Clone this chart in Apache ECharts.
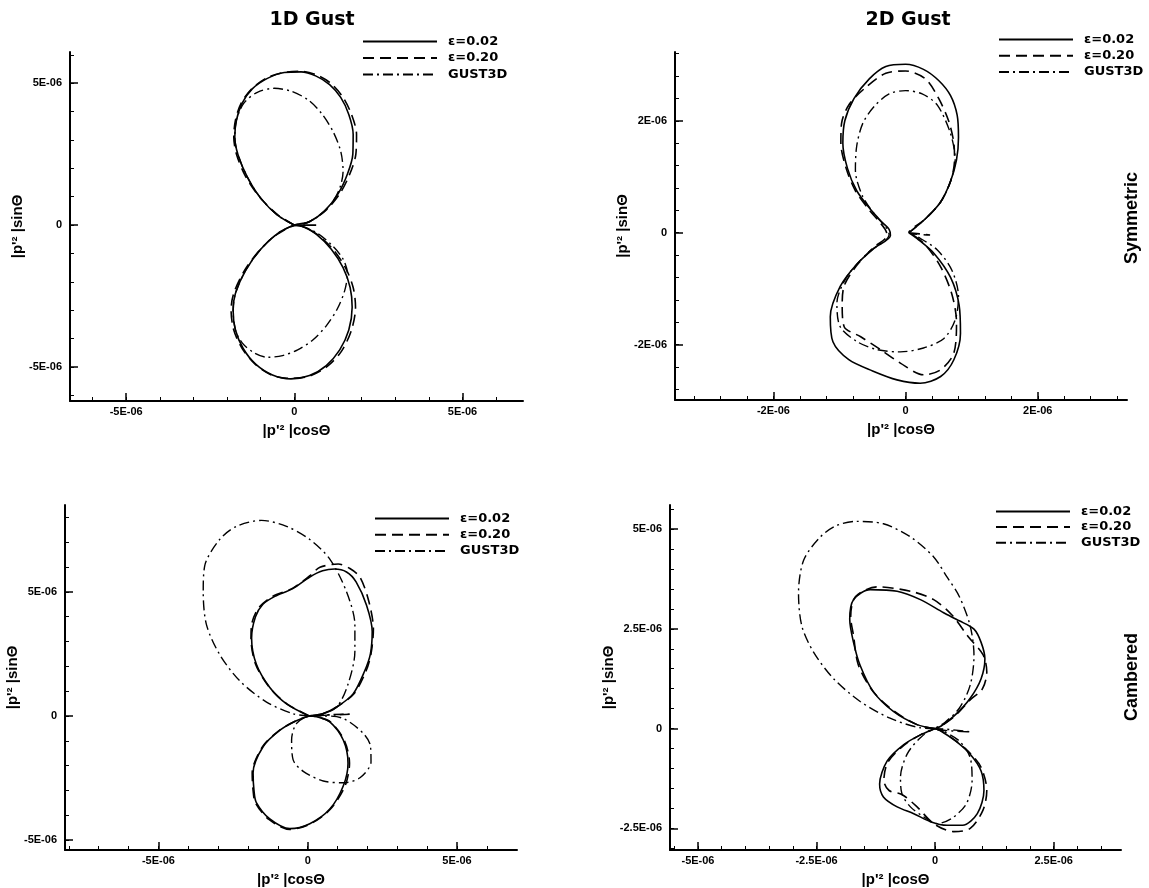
<!DOCTYPE html>
<html><head><meta charset="utf-8">
<script src="https://cdn.jsdelivr.net/npm/echarts@6/dist/echarts.min.js"></script>
<style>html,body{margin:0;padding:0;background:#fff}#c{width:1149px;height:888px}</style>
</head><body><div id="c"></div>
<script>
// Series names
const seriesNames = ['ε=0.02', 'ε=0.20', 'GUST3D'];

// All values in units of 1E-06 : [ |p'^2|cosΘ , |p'^2|sinΘ ]
// Panel 1: 1D Gust, Symmetric
const p1Eps002 = [[0,0],[-0.5,0.35],[-1.0,0.95],[-1.4,1.7],[-1.68,2.5],[-1.77,3.1],[-1.72,3.7],[-1.55,4.3],[-1.25,4.8],[-0.8,5.17],[-0.3,5.38],[0.2,5.4],[0.65,5.25],[1.05,4.95],[1.38,4.5],[1.62,3.9],[1.75,3.2],[1.74,2.5],[1.58,1.8],[1.3,1.1],[0.9,0.5],[0.45,0.12],[0,0],[-0.5,-0.3],[-1.0,-0.85],[-1.45,-1.6],[-1.75,-2.4],[-1.82,-3.0],[-1.75,-3.7],[-1.52,-4.35],[-1.15,-4.9],[-0.65,-5.28],[-0.1,-5.42],[0.45,-5.3],[0.95,-4.95],[1.35,-4.4],[1.62,-3.7],[1.72,-2.9],[1.66,-2.2],[1.45,-1.5],[1.1,-0.85],[0.65,-0.32],[0.25,-0.05],[0,0]];
const p1Eps020 = [[0,0],[-0.5,0.37],[-1.02,0.97],[-1.45,1.72],[-1.72,2.5],[-1.8,3.1],[-1.75,3.7],[-1.58,4.3],[-1.25,4.82],[-0.8,5.2],[-0.3,5.38],[0.2,5.42],[0.68,5.28],[1.1,4.98],[1.45,4.5],[1.7,3.9],[1.85,3.2],[1.83,2.5],[1.65,1.8],[1.35,1.1],[0.92,0.5],[0.45,0.12],[0.1,0],[0.65,0],[0.1,0],[-0.5,-0.32],[-1.02,-0.87],[-1.48,-1.6],[-1.8,-2.4],[-1.88,-3.0],[-1.8,-3.7],[-1.55,-4.35],[-1.15,-4.92],[-0.65,-5.3],[-0.1,-5.4],[0.45,-5.32],[0.98,-4.98],[1.4,-4.45],[1.7,-3.7],[1.82,-2.9],[1.75,-2.2],[1.52,-1.5],[1.15,-0.85],[0.68,-0.33],[0.25,-0.05],[0,0]];
const p1Gust = [[0,0],[-0.5,0.35],[-1.0,0.95],[-1.4,1.7],[-1.68,2.5],[-1.77,3.1],[-1.72,3.7],[-1.5,4.3],[-1.1,4.68],[-0.6,4.82],[-0.1,4.72],[0.4,4.42],[0.8,3.95],[1.15,3.3],[1.38,2.6],[1.45,1.9],[1.35,1.3],[1.1,0.75],[0.7,0.3],[0.3,0.05],[0,0],[-0.5,-0.3],[-1.0,-0.85],[-1.45,-1.6],[-1.75,-2.4],[-1.82,-3.0],[-1.75,-3.7],[-1.55,-4.15],[-1.2,-4.5],[-0.8,-4.66],[-0.35,-4.6],[0.1,-4.4],[0.55,-4.05],[0.95,-3.55],[1.28,-2.95],[1.5,-2.3],[1.58,-1.7],[1.45,-1.2],[1.15,-0.75],[0.7,-0.3],[0.25,-0.05],[0,0]];

// Panel 2: 2D Gust, Symmetric
const p2Eps002 = [[0.05,0],[0.3,0.25],[0.53,0.55],[0.68,0.92],[0.77,1.3],[0.8,1.7],[0.78,2.1],[0.68,2.45],[0.5,2.72],[0.27,2.92],[0,3.01],[-0.3,2.97],[-0.55,2.75],[-0.78,2.4],[-0.92,2.0],[-0.95,1.6],[-0.88,1.15],[-0.74,0.75],[-0.52,0.4],[-0.35,0.18],[-0.25,0.06],[-0.23,-0.05],[-0.48,-0.28],[-0.73,-0.55],[-0.99,-0.96],[-1.14,-1.5],[-1.1,-1.95],[-0.86,-2.27],[-0.5,-2.47],[-0.13,-2.63],[0.22,-2.69],[0.53,-2.57],[0.73,-2.27],[0.83,-1.8],[0.81,-1.3],[0.68,-0.8],[0.43,-0.37],[0.17,-0.1],[0.05,0]];
const p2Eps020 = [[0.05,0],[0.37,-0.04],[0.05,0.01],[0.3,0.25],[0.53,0.55],[0.68,0.92],[0.74,1.3],[0.73,1.6],[0.65,2.0],[0.5,2.4],[0.3,2.75],[0,2.89],[-0.3,2.85],[-0.6,2.6],[-0.85,2.3],[-0.97,1.95],[-0.98,1.6],[-0.9,1.15],[-0.76,0.75],[-0.56,0.42],[-0.4,0.2],[-0.31,0.06],[-0.28,-0.04],[-0.5,-0.28],[-0.75,-0.6],[-0.93,-0.95],[-0.96,-1.3],[-0.93,-1.68],[-0.68,-1.86],[-0.38,-2.09],[-0.08,-2.33],[0.27,-2.54],[0.53,-2.45],[0.73,-2.15],[0.77,-1.6],[0.7,-1.1],[0.53,-0.61],[0.3,-0.22],[0.1,-0.03]];
const p2Gust = [[0.05,0],[0.3,0.25],[0.53,0.55],[0.68,0.92],[0.75,1.3],[0.68,1.77],[0.48,2.28],[0.25,2.48],[0,2.54],[-0.25,2.48],[-0.48,2.25],[-0.65,1.95],[-0.74,1.55],[-0.76,1.12],[-0.65,0.65],[-0.45,0.3],[-0.3,0.1],[-0.25,-0.03],[-0.58,-0.37],[-0.89,-0.79],[-1.04,-1.26],[-0.99,-1.68],[-0.73,-1.95],[-0.43,-2.09],[-0.08,-2.13],[0.27,-2.06],[0.58,-1.89],[0.75,-1.56],[0.8,-1.14],[0.7,-0.67],[0.48,-0.31],[0.22,-0.1],[0.05,0]];

// Panel 3: 1D Gust, Cambered
const p3Eps002 = [[0.05,0],[-0.71,0.49],[-1.27,1.15],[-1.72,2.08],[-1.88,3.14],[-1.75,4.0],[-1.5,4.5],[-1.1,4.82],[-0.5,5.13],[0.07,5.6],[0.5,5.85],[0.9,5.92],[1.3,5.8],[1.62,5.4],[1.97,4.46],[2.16,3.4],[2.1,2.5],[1.91,1.82],[1.52,0.89],[0.97,0.36],[0.5,0.09],[0.05,0],[-0.4,-0.2],[-0.93,-0.57],[-1.49,-1.23],[-1.83,-2.29],[-1.8,-3.0],[-1.72,-3.49],[-1.27,-4.15],[-0.6,-4.54],[0.07,-4.34],[0.74,-3.75],[1.19,-2.82],[1.35,-1.9],[1.19,-0.97],[0.74,-0.24],[0.3,-0.03],[0.05,0]];
const p3Eps020 = [[0.05,0],[-0.71,0.5],[-1.3,1.18],[-1.75,2.1],[-1.9,3.14],[-1.88,3.67],[-1.66,4.33],[-1.2,4.8],[-0.5,5.15],[0.07,5.65],[0.41,5.99],[1.02,6.12],[1.4,5.95],[1.75,5.59],[2.05,4.6],[2.2,3.5],[2.12,2.5],[1.95,1.8],[1.55,0.9],[0.97,0.36],[0.5,0.09],[0.05,0],[-0.4,-0.2],[-0.95,-0.58],[-1.52,-1.25],[-1.86,-2.3],[-1.83,-3.0],[-1.75,-3.5],[-1.3,-4.17],[-0.6,-4.57],[0.07,-4.36],[0.74,-3.78],[1.24,-2.85],[1.4,-1.9],[1.22,-0.97],[0.76,-0.24],[0.3,-0.03],[0.05,0]];
const p3Gust = [[0.05,0],[-0.49,0.09],[-1.38,0.56],[-2.28,1.42],[-2.95,2.48],[-3.39,3.67],[-3.5,5.0],[-3.45,6.05],[-2.95,7.11],[-2.39,7.64],[-1.55,7.88],[-0.71,7.64],[0.07,7.11],[0.74,6.32],[1.3,5.0],[1.58,3.67],[1.58,2.61],[1.35,1.28],[0.97,0.36],[0.4,0.05],[0.05,0],[1.47,0.07],[0.05,0],[-0.38,-0.31],[-0.54,-0.97],[-0.49,-1.76],[-0.15,-2.23],[0.52,-2.62],[1.19,-2.69],[1.75,-2.49],[2.12,-1.85],[2.1,-1.2],[1.86,-0.7],[1.19,-0.1],[0.5,0],[0.05,0]];

// Panel 4: 2D Gust, Cambered
const p4Eps002 = [[0,0],[-0.38,0.1],[-0.88,0.43],[-1.3,0.92],[-1.58,1.58],[-1.72,2.16],[-1.8,2.74],[-1.72,3.23],[-1.37,3.48],[-0.8,3.44],[-0.31,3.23],[0.18,2.9],[0.51,2.7],[0.82,2.49],[0.97,2.16],[1.05,1.75],[0.97,1.25],[0.74,0.76],[0.43,0.35],[0.12,0.06],[0,0],[-0.3,-0.15],[-0.66,-0.4],[-1.01,-0.81],[-1.17,-1.39],[-1.09,-1.71],[-0.8,-1.96],[-0.45,-2.13],[-0.1,-2.33],[0.25,-2.42],[0.58,-2.42],[0.89,-2.13],[1.03,-1.55],[0.97,-1.06],[0.74,-0.64],[0.43,-0.31],[0.12,-0.06],[0,0]];
const p4Eps020 = [[0,0],[-0.38,0.1],[-0.88,0.45],[-1.32,0.95],[-1.62,1.6],[-1.72,2.33],[-1.78,2.8],[-1.68,3.3],[-1.23,3.55],[-0.52,3.44],[-0.03,3.23],[0.35,2.85],[0.7,2.3],[1.01,1.85],[1.09,1.42],[1.0,1.0],[0.74,0.72],[0.43,0.33],[0.12,0.06],[0,0],[-0.3,-0.15],[-0.66,-0.42],[-1.0,-0.85],[-1.08,-1.3],[-0.97,-1.55],[-0.7,-1.65],[-0.38,-1.96],[-0.03,-2.38],[0.39,-2.58],[0.74,-2.5],[1.01,-2.04],[1.09,-1.55],[0.97,-0.97],[0.74,-0.62],[0.43,-0.3],[0.12,-0.05],[0,0]];
const p4Gust = [[0,0],[-0.31,0.02],[-0.95,0.26],[-1.58,0.68],[-2.14,1.25],[-2.56,1.91],[-2.81,2.57],[-2.88,3.4],[-2.77,4.22],[-2.42,4.8],[-2.07,5.09],[-1.65,5.19],[-1.09,5.13],[-0.52,4.8],[-0.03,4.3],[0.25,3.8],[0.51,3.31],[0.74,2.57],[0.82,1.83],[0.74,1.09],[0.51,0.51],[0.19,0.14],[0,0],[0.74,-0.08],[0,0],[-0.31,-0.23],[-0.59,-0.64],[-0.73,-1.22],[-0.7,-1.63],[-0.52,-1.96],[-0.24,-2.21],[0.04,-2.38],[0.35,-2.25],[0.66,-1.88],[0.78,-1.3],[0.74,-0.73],[0.51,-0.31],[0.15,-0.05],[0,0]];

// Tick values (units of 1E-06)
const p1XMajor = [-5, 0, 5];
const p1XMinor = [-6,-5,-4,-3,-2,-1,0,1,2,3,4,5,6];
const p1YMajor = [-5, 0, 5];
const p1YMinor = [-6,-5,-4,-3,-2,-1,0,1,2,3,4,5,6];
const p2XMajor = [-2, 0, 2];
const p2XMinor = [-3.2,-2.8,-2.4,-2,-1.6,-1.2,-0.8,-0.4,0,0.4,0.8,1.2,1.6,2,2.4,2.8,3.2];
const p2YMajor = [-2, 0, 2];
const p2YMinor = [-2.8,-2.4,-2,-1.6,-1.2,-0.8,-0.4,0,0.4,0.8,1.2,1.6,2,2.4,2.8,3.2];
const p3XMajor = [-5, 0, 5];
const p3XMinor = [-8,-7,-6,-5,-4,-3,-2,-1,0,1,2,3,4,5,6];
const p3YMajor = [-5, 0, 5];
const p3YMinor = [-5,-4,-3,-2,-1,0,1,2,3,4,5,6,7,8];
const p4XMajor = [-5, -2.5, 0, 2.5];
const p4XMinor = [-5.5,-5,-4.5,-4,-3.5,-3,-2.5,-2,-1.5,-1,-0.5,0,0.5,1,1.5,2,2.5,3,3.5];
const p4YMajor = [-2.5, 0, 2.5, 5];
const p4YMinor = [-3,-2.5,-2,-1.5,-1,-0.5,0,0.5,1,1.5,2,2.5,3,3.5,4,4.5,5,5.5];

const panelTitles = ['1D Gust', '2D Gust'];
const rowLabels = ['Symmetric', 'Cambered'];
const xAxisName = "|p'² |cosΘ";
const yAxisName = "|p'² |sinΘ";

const panels = [
  {grid:{left:70,top:52,width:453,height:349}, x:[-6.67,6.8], y:[-6.2,6.1],
   xMaj:p1XMajor, xMin:p1XMinor, yMaj:p1YMajor, yMin:p1YMinor,
   data:[p1Eps002,p1Eps020,p1Gust], legend:{left:362,top:33,gap:2.7}, xGap:22, yGap:42},
  {grid:{left:675,top:52,width:452,height:348}, x:[-3.49,3.35], y:[-2.99,3.23],
   xMaj:p2XMajor, xMin:p2XMinor, yMaj:p2YMajor, yMin:p2YMinor,
   data:[p2Eps002,p2Eps020,p2Gust], legend:{left:998,top:31,gap:2.5}, xGap:22, yGap:37},
  {grid:{left:65,top:505,width:452,height:350}, x:[-8.13,7.01], y:[-5.4,8.5],
   xMaj:p3XMajor, xMin:p3XMinor, yMaj:p3YMajor, yMin:p3YMinor,
   data:[p3Eps002,p3Eps020,p3Gust], legend:{left:374,top:510,gap:2.4}, xGap:22, yGap:39},
  {grid:{left:670,top:505,width:451,height:348}, x:[-5.59,3.92], y:[-3.04,5.6],
   xMaj:p4XMajor, xMin:p4XMinor, yMaj:p4YMajor, yMin:p4YMinor,
   data:[p4Eps002,p4Eps020,p4Gust], legend:{left:995,top:503,gap:1.8}, xGap:22, yGap:41}
];

const fmt = v => (v === 0 ? '0' : v + 'E-06');
const labelStyle = {color:'#000', fontSize:11, fontWeight:'bold', fontFamily:'Liberation Sans'};
const nameStyle = {color:'#000', fontSize:15, fontWeight:'bold', fontFamily:'Liberation Sans'};
const lineTypes = [
  {type:'solid', width:1.6},
  {type:[11,6], width:1.6},
  {type:[10,4,2,4], width:1.4}
];

const grids = [], xAxes = [], yAxes = [], series = [], legends = [];
panels.forEach((p, i) => {
  grids.push(p.grid);
  xAxes.push({
    type:'value', gridIndex:i, min:p.x[0], max:p.x[1], position:'bottom',
    axisLine:{show:true, onZero:false, lineStyle:{color:'#000', width:2}},
    axisTick:{show:true, inside:true, length:8, customValues:p.xMaj, lineStyle:{color:'#000', width:1.5}},
    axisLabel:Object.assign({show:true, customValues:p.xMaj, formatter:fmt, margin:5}, labelStyle),
    splitLine:{show:false},
    name:xAxisName, nameLocation:'middle', nameGap:p.xGap, nameTextStyle:nameStyle
  });
  xAxes.push({
    type:'value', gridIndex:i, min:p.x[0], max:p.x[1], position:'bottom',
    axisLine:{show:false, onZero:false},
    axisTick:{show:true, inside:true, length:4, customValues:p.xMin, lineStyle:{color:'#000', width:1}},
    axisLabel:{show:false}, splitLine:{show:false}
  });
  yAxes.push({
    type:'value', gridIndex:i, min:p.y[0], max:p.y[1], position:'left',
    axisLine:{show:true, onZero:false, lineStyle:{color:'#000', width:2}},
    axisTick:{show:true, inside:true, length:8, customValues:p.yMaj, lineStyle:{color:'#000', width:1.5}},
    axisLabel:Object.assign({show:true, customValues:p.yMaj, formatter:fmt, margin:8}, labelStyle),
    splitLine:{show:false},
    name:yAxisName, nameLocation:'middle', nameGap:p.yGap, nameTextStyle:nameStyle
  });
  yAxes.push({
    type:'value', gridIndex:i, min:p.y[0], max:p.y[1], position:'left',
    axisLine:{show:false, onZero:false},
    axisTick:{show:true, inside:true, length:4, customValues:p.yMin, lineStyle:{color:'#000', width:1}},
    axisLabel:{show:false}, splitLine:{show:false}
  });
  p.data.forEach((d, k) => {
    series.push({
      type:'line', name:seriesNames[k], xAxisIndex:2*i, yAxisIndex:2*i, data:d,
      symbol:'none', showSymbol:false, smooth:0.3, silent:true, clip:false,
      color:'#000', itemStyle:{color:'#000'},
      lineStyle:Object.assign({color:'#000'}, lineTypes[k])
    });
  });
  legends.push({
    data:seriesNames, left:p.legend.left, top:p.legend.top + 2, orient:'vertical', padding:0,
    itemWidth:74, itemHeight:14, itemGap:p.legend.gap + 0.8, selectedMode:false,
    itemStyle:{opacity:0, borderWidth:0},
    textStyle:{color:'#000', fontFamily:'DejaVu Sans', fontWeight:'bold', fontSize:13, padding:[0,0,0,6]}
  });
});

const graphics = [
  {type:'text', x:312, y:20, style:{text:panelTitles[0], font:'bold 19px "DejaVu Sans"', fill:'#000', align:'center', verticalAlign:'middle'}},
  {type:'text', x:908, y:20, style:{text:panelTitles[1], font:'bold 19px "DejaVu Sans"', fill:'#000', align:'center', verticalAlign:'middle'}},
  {type:'text', x:1132, y:218, rotation:Math.PI/2, style:{text:rowLabels[0], font:'bold 18px "Liberation Sans"', fill:'#000', align:'center', verticalAlign:'middle'}},
  {type:'text', x:1132, y:677, rotation:Math.PI/2, style:{text:rowLabels[1], font:'bold 18px "Liberation Sans"', fill:'#000', align:'center', verticalAlign:'middle'}}
];

const chart = echarts.init(document.getElementById('c'), null, {renderer:'canvas'});
chart.setOption({
  animation:false, backgroundColor:'#fff',
  grid:grids, xAxis:xAxes, yAxis:yAxes, series:series, legend:legends, graphic:graphics
});
</script></body></html>
